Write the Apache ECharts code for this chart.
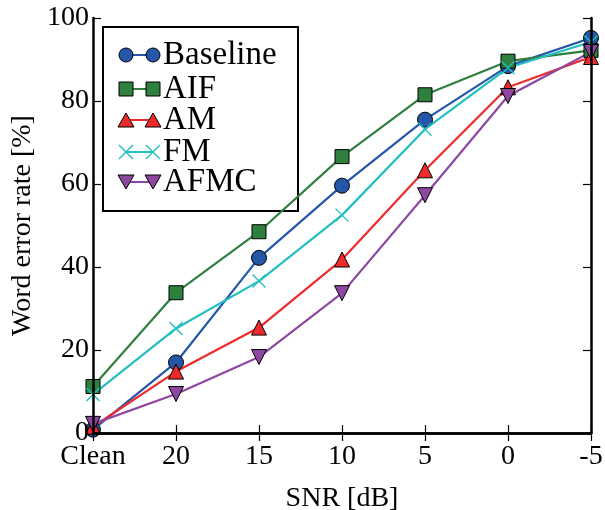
<!DOCTYPE html>
<html>
<head>
<meta charset="utf-8">
<script src="https://cdn.jsdelivr.net/npm/echarts@6/dist/echarts.min.js"></script>
<style>
html,body{margin:0;padding:0;background:#fff}
#chart{width:605px;height:510px}
</style>
</head>
<body>
<div id="chart"></div>
<script>
let snrLabels = ["Clean","20","15","10","5","0","-5"]
let baseline = [0.8, 17, 42.2, 59.6, 75.5, 88.4, 95.2]
let aif = [11.2, 33.8, 48.5, 66.6, 81.5, 89.6, 92.2]
let am = [1.5, 14.8, 25.4, 41.8, 63.3, 83.3, 90.6]
let fm = [9.3, 25.2, 36.6, 52.5, 73.2, 88, 94.2]
let afmc = [2.2, 9.4, 18.3, 33.7, 57.3, 81.2, 91.8]

let chart = echarts.init(document.getElementById("chart"))
let serif = "Liberation Serif"
let crossPath = "path://M0,0L10,10M10,0L0,10"

/** 系列定义 */
let seriesDefs = [
    {name:"Baseline",data:baseline,color:"#2457a8",symbol:"circle",size:15},
    {name:"AIF",data:aif,color:"#2f7f3f",symbol:"rect",size:14},
    {name:"AM",data:am,color:"#ee2a2a",symbol:"triangle",size:15},
    {name:"FM",data:fm,color:"#22bfc0",symbol:crossPath,size:13},
    {name:"AFMC",data:afmc,color:"#8e47a0",symbol:"triangle",size:15,rotate:180}
]

let series = seriesDefs.map(d=>{
    let isCross = d.symbol == crossPath
    return {
        name:d.name,
        type:"line",
        data:d.data,
        symbol:d.symbol,
        symbolSize:d.size,
        symbolRotate:d.rotate || 0,
        clip:true,
        z:2,
        lineStyle:{color:d.color,width:2.2},
        itemStyle:{
            color:isCross ? "rgba(0,0,0,0)" : d.color,
            borderColor:isCross ? d.color : "#000",
            borderWidth:isCross ? 1.4 : 1
        }
    }
})

/** 图例 (手工绘制: 符号-线-符号) */
function legendSymbol(d,cx,cy){
    if(d.symbol == "circle"){
        return {type:"circle",shape:{cx:cx,cy:cy,r:7},style:{fill:d.color,stroke:"#000",lineWidth:1}}
    }
    if(d.symbol == "rect"){
        return {type:"rect",shape:{x:cx-7,y:cy-7,width:14,height:14},style:{fill:d.color,stroke:"#000",lineWidth:1}}
    }
    if(d.symbol == crossPath){
        return {type:"group",children:[
            {type:"line",shape:{x1:cx-7,y1:cy-7,x2:cx+7,y2:cy+7},style:{stroke:d.color,lineWidth:1.4}},
            {type:"line",shape:{x1:cx+7,y1:cy-7,x2:cx-7,y2:cy+7},style:{stroke:d.color,lineWidth:1.4}}
        ]}
    }
    let pts = d.rotate ? [[cx-8,cy-7],[cx+8,cy-7],[cx,cy+7]] : [[cx-8,cy+7],[cx+8,cy+7],[cx,cy-7]]
    return {type:"polygon",shape:{points:pts},style:{fill:d.color,stroke:"#000",lineWidth:1}}
}

let legendRows = [55,89,120,152,182]
let legendChildren = [
    {type:"rect",shape:{x:103,y:27,width:195,height:184},style:{fill:"#fff",stroke:"#000",lineWidth:2}}
]
seriesDefs.forEach((d,i)=>{
    let y = legendRows[i]
    legendChildren.push({type:"line",shape:{x1:126,y1:y,x2:153,y2:y},style:{stroke:d.color,lineWidth:2}})
    legendChildren.push(legendSymbol(d,126,y))
    legendChildren.push(legendSymbol(d,153,y))
    legendChildren.push({type:"text",x:163,y:y,style:{text:d.name,font:"33px "+serif,fill:"#000",textVerticalAlign:"middle"}})
})

let labelStyle = {fontFamily:serif,fontSize:28,color:"#000"}

let option = {
    animation:false,
    backgroundColor:"#fff",
    grid:{left:93,right:14,top:18,bottom:77,containLabel:false,outerBoundsMode:"none"},
    xAxis:[
        {
            type:"category",data:snrLabels,boundaryGap:false,position:"bottom",z:10,
            name:"SNR [dB]",nameLocation:"middle",nameGap:52,
            nameTextStyle:{fontFamily:serif,fontSize:28,color:"#000"},
            axisLine:{lineStyle:{color:"#000",width:2.5}},
            axisTick:{inside:true,length:8,interval:0,lineStyle:{color:"#000",width:1.2}},
            axisLabel:Object.assign({margin:10,interval:0},labelStyle),
            splitLine:{show:false}
        },
        {
            type:"category",data:snrLabels,boundaryGap:false,position:"top",z:10,
            axisLine:{lineStyle:{color:"#000",width:2.5}},
            axisTick:{inside:true,length:8,interval:0,lineStyle:{color:"#000",width:1.2}},
            axisLabel:{show:false},
            splitLine:{show:false}
        }
    ],
    yAxis:[
        {
            type:"value",min:0,max:100,interval:20,position:"left",z:10,
            name:"Word error rate [%]",nameLocation:"middle",nameGap:56,nameMoveOverlap:false,
            nameTextStyle:{fontFamily:serif,fontSize:28,color:"#000"},
            axisLine:{show:true,lineStyle:{color:"#000",width:2.5}},
            axisTick:{show:true,inside:true,length:8,lineStyle:{color:"#000",width:1.2}},
            axisLabel:Object.assign({margin:4},labelStyle),
            splitLine:{show:false}
        },
        {
            type:"value",min:0,max:100,interval:20,position:"right",z:10,
            axisLine:{show:true,lineStyle:{color:"#000",width:2.5}},
            axisTick:{show:true,inside:true,length:8,lineStyle:{color:"#000",width:1.2}},
            axisLabel:{show:false},
            splitLine:{show:false}
        }
    ],
    series:series,
    graphic:[{type:"group",z:100,children:legendChildren}]
}
chart.setOption(option)
</script>
</body>
</html>
